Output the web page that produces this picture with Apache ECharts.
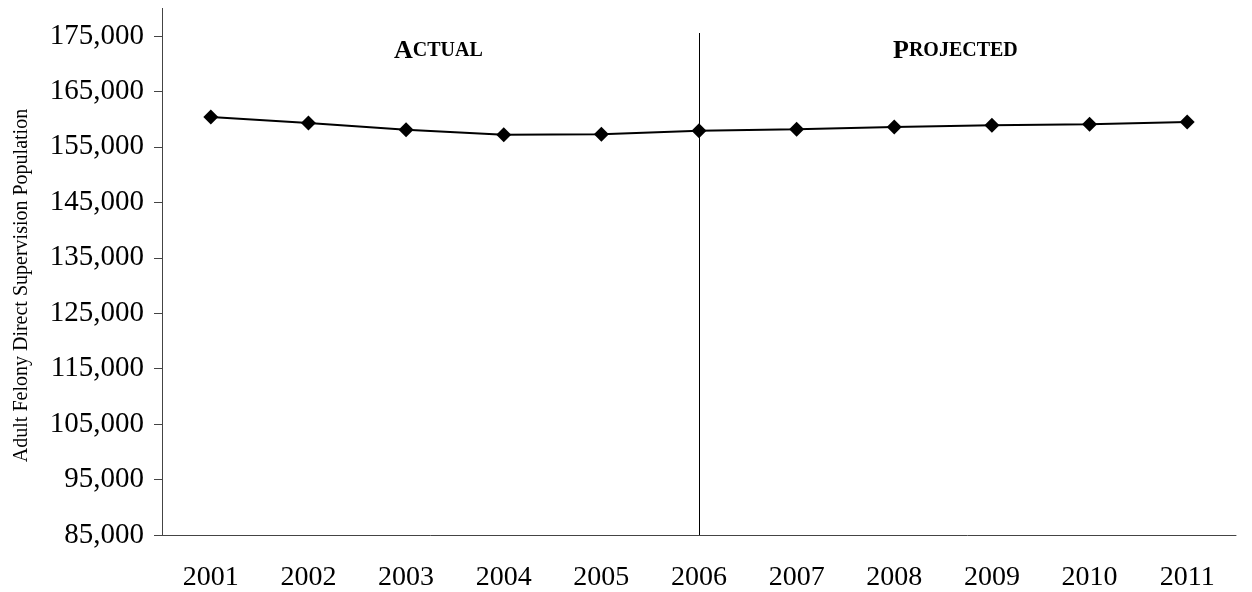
<!DOCTYPE html>
<html style="height: 100%">
<head><meta charset="utf-8"></head>
<body style="height: 100%; margin: 0">
<div id="main" style="width:1252px;height:592px"></div>
<script src="https://cdn.jsdelivr.net/npm/echarts@6/dist/echarts.min.js"></script>
<script>
var years = ['2001','2002','2003','2004','2005','2006','2007','2008','2009','2010','2011'];
var population = [160400, 159300, 158100, 157200, 157300, 157900, 158200, 158600, 158900, 159100, 159500];
var splitYear = '2006';

var font = '"Liberation Serif", "Times New Roman", serif';
var chart = echarts.init(document.getElementById('main'));
function caps(big, small, x) {
  return {
    type: 'text', left: x, top: 38,
    style: {
      text: '{b|' + big + '}{s|' + small + '}',
      rich: {
        b: { fontFamily: font, fontWeight: 'bold', fontSize: 26, fill: '#000' },
        s: { fontFamily: font, fontWeight: 'bold', fontSize: 20, fill: '#000' }
      }
    }
  };
}
chart.setOption({
  animation: false,
  grid: { left: 162, right: 16, top: 36, bottom: 56 },
  xAxis: {
    type: 'category', data: years, boundaryGap: true,
    axisLine: { show: true, lineStyle: { color: '#444' } }, axisTick: { show: false },
    axisLabel: { fontFamily: font, fontSize: 28, color: '#000', margin: 29 }
  },
  yAxis: {
    type: 'value', min: 85000, max: 175000, interval: 10000,
    name: 'Adult Felony Direct Supervision Population',
    nameLocation: 'middle', nameGap: 130,
    nameTextStyle: { fontFamily: font, fontSize: 20, color: '#000' },
    axisLine: { show: true, lineStyle: { color: '#444' } },
    axisTick: { show: true, length: 8, lineStyle: { color: '#444' } },
    splitLine: { show: false },
    axisLabel: { fontFamily: font, fontSize: 29, color: '#000', margin: 18,
      formatter: function (v) { return v.toLocaleString('en-US'); } }
  },
  series: [{
    type: 'line', data: population,
    symbol: 'diamond', symbolSize: 15,
    lineStyle: { color: '#000', width: 2 },
    itemStyle: { color: '#000' },
    markLine: {
      silent: true, symbol: 'none', label: { show: false },
      lineStyle: { color: '#000', width: 1, type: 'solid' },
      data: [[{ xAxis: splitYear, y: 33 }, { xAxis: splitYear, yAxis: 85000 }]]
    }
  }]
});
// extend the y axis line above the top tick, as in the source
var c0 = chart.convertToPixel({ xAxisIndex: 0 }, years[0]);
var c1 = chart.convertToPixel({ xAxisIndex: 0 }, years[1]);
var axisX = Math.round(c0 - (c1 - c0) / 2) + 0.5;
var topY = chart.convertToPixel({ yAxisIndex: 0 }, 175000);
var bottomY = chart.convertToPixel({ yAxisIndex: 0 }, 85000);
chart.setOption({
  graphic: [
    { type: 'line', shape: { x1: axisX, y1: 8, x2: axisX, y2: topY }, style: { stroke: '#444', lineWidth: 1 } },
    { type: 'line', shape: { x1: axisX - 8, y1: Math.round(bottomY) + 0.5, x2: axisX, y2: Math.round(bottomY) + 0.5 }, style: { stroke: '#444', lineWidth: 1 } },
    caps('A', 'CTUAL', 394),
    caps('P', 'ROJECTED', 893)
  ]
});
</script>
</body>
</html>
